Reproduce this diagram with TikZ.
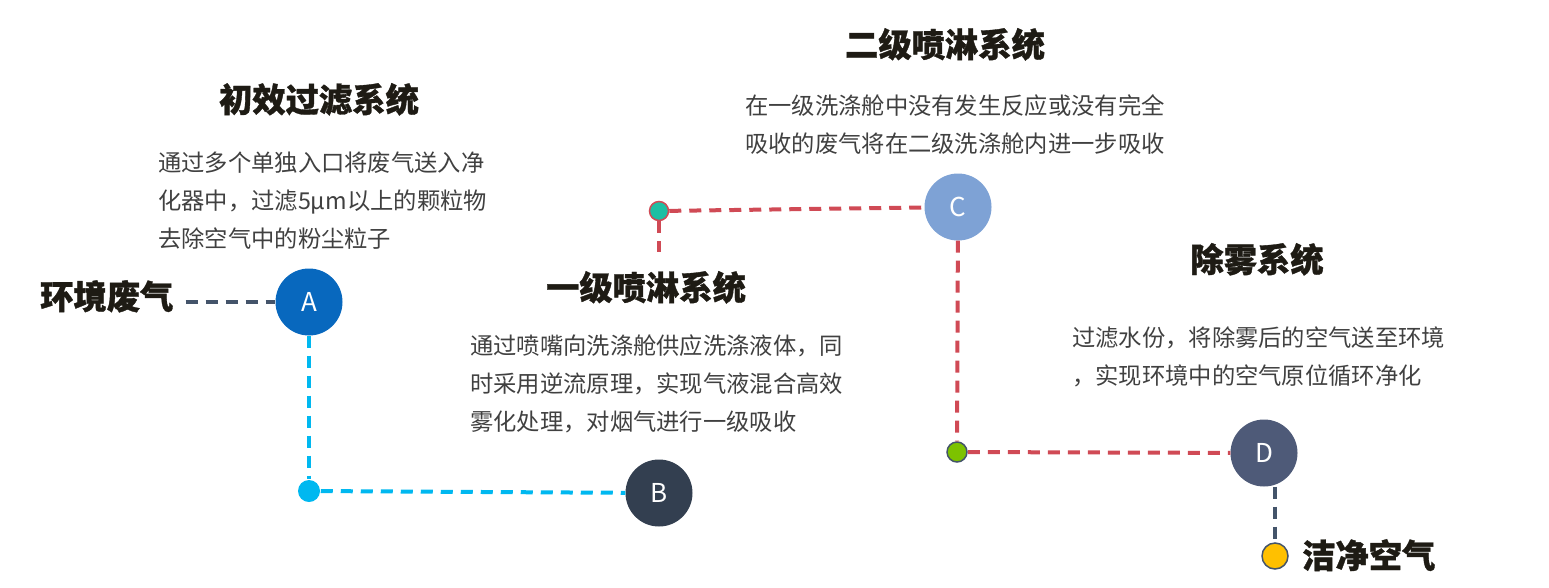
\documentclass[tikz,border=0pt]{standalone}
\usepackage{fontspec}
\setmainfont{Noto Sans CJK SC}[BoldFeatures={FakeBold=1}]
\definecolor{cA}{HTML}{0868BE}
\definecolor{cB}{HTML}{333F50}
\definecolor{cC}{HTML}{7EA2D5}
\definecolor{cD}{HTML}{4E5A78}
\definecolor{slate}{HTML}{44546A}
\definecolor{cyanl}{HTML}{00B8F0}
\definecolor{redl}{HTML}{D04A55}
\definecolor{teal2}{HTML}{1DBFA3}
\definecolor{greenl}{HTML}{7DC200}
\definecolor{yell}{HTML}{FFC000}
\definecolor{bodyc}{HTML}{404040}
\definecolor{titlec}{HTML}{1E1B14}
\begin{document}
\begin{tikzpicture}[x=1pt,y=-1pt,
  bigc/.style={circle,minimum size=67pt,inner sep=0pt,text=white,font=\fontsize{26}{26}\selectfont},
  dotc/.style={circle,inner sep=0pt,line width=1.5pt},
  ttl/.style={anchor=base,inner sep=0pt,text=titlec,font=\fontsize{33.3}{33.3}\selectfont\bfseries},
  ttlw/.style={anchor=base west,inner sep=0pt,text=titlec,font=\fontsize{33.3}{33.3}\selectfont\bfseries},
  bodyl/.style={anchor=base west,inner sep=0pt,text=bodyc,font=\fontsize{23.3}{23.3}\selectfont},
  dashl/.style={line width=4pt,dash pattern=on 12pt off 8pt}
]
\path[use as bounding box] (0,0) rectangle (1549,587);
% circles
\node[bigc,fill=cA] (A) at (309,302) {A};
\node[bigc,fill=cB] (B) at (659,493) {B};
\node[bigc,fill=cC] (C) at (958,207) {C};
\node[bigc,fill=cD] (D) at (1264,453) {D};
% dots
\node[dotc,fill=cyanl,minimum size=22pt] (d1) at (309,491) {};
\node[dotc,fill=teal2,draw=redl,minimum size=19pt] (d2) at (659,211) {};
\node[dotc,fill=greenl,draw=slate,minimum size=20pt] (d3) at (957,452) {};
\node[dotc,fill=yell,draw=slate,minimum size=26pt] (d4) at (1275,556) {};
\coordinate (d2s) at (659,252);
% end labels
\node[ttlw] (env) at (40,309) {环境废气};
\node[ttlw] (clean) at (1302,568) {洁净空气};
% titles
\node[ttl] (t1) at (319,112) {初效过滤系统};
\node[ttl] (t2) at (646,300) {一级喷淋系统};
\node[ttl] (t3) at (945,57) {二级喷淋系统};
\node[ttl] (t4) at (1257,272) {除雾系统};
% body texts
\node[bodyl] (a1) at (158,171) {通过多个单独入口将废气送入净};
\node[bodyl] (a2) at (158,209) {化器中，过滤5μm以上的颗粒物};
\node[bodyl] (a3) at (158,247) {去除空气中的粉尘粒子};
\node[bodyl] (b1) at (470,354) {通过喷嘴向洗涤舱供应洗涤液体，同};
\node[bodyl] (b2) at (470,392) {时采用逆流原理，实现气液混合高效};
\node[bodyl] (b3) at (470,430) {雾化处理，对烟气进行一级吸收};
\node[bodyl] (c1) at (745,114) {在一级洗涤舱中没有发生反应或没有完全};
\node[bodyl] (c2) at (745,152) {吸收的废气将在二级洗涤舱内进一步吸收};
\node[bodyl] (e1) at (1072,346) {过滤水份，将除雾后的空气送至环境};
\node[bodyl] (e2) at (1072,384) {，实现环境中的空气原位循环净化};
% connectors
\draw[dashl,slate] ([xshift=12pt]env.east |- A.west) -- (A.west);
\draw[dashl,cyanl] (A.south) -- (d1);
\draw[dashl,cyanl] (d1) -- (B);
\draw[dashl,redl] (d2) -- (d2s);
\draw[dashl,redl] (d2) -- (C);
\draw[dashl,redl] (C) -- (d3);
\draw[dashl,redl] (d3) -- (D);
\draw[dashl,slate] (D.south -| d4) -- (d4);
\end{tikzpicture}
\end{document}
